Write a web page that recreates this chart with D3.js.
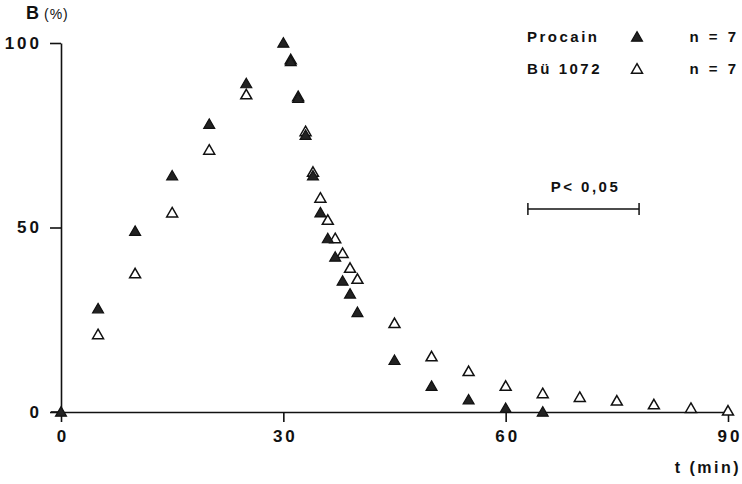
<!DOCTYPE html>
<html>
<head>
<meta charset="utf-8">
<script src="https://cdn.jsdelivr.net/npm/d3@7"></script>
<style>
  body { margin: 0; background: #fff; }
  text { font-family: "Liberation Sans", Arial, sans-serif; font-weight: bold; fill: #111; }
</style>
</head>
<body>
<div id="chart"></div>
<script>
// data: time (min) and B (%)
const procainT = [0, 5, 10, 15, 20, 25, 30, 31, 32, 33, 34, 35, 36, 37, 38, 39, 40, 45, 50, 55, 60, 65]
const procainB = [0, 28, 49, 64, 78, 89, 100, 95, 85, 75, 64, 54, 47, 42, 35.5, 32, 27, 14, 7, 3.3, 1, 0]
const bueT = [5, 10, 15, 20, 25, 31, 32, 33, 34, 35, 36, 37, 38, 39, 40, 45, 50, 55, 60, 65, 70, 75, 80, 85, 90]
const bueB = [21, 37.5, 54, 71, 86, 95.5, 85.5, 76, 65, 58, 52, 47, 43, 39, 36, 24, 15, 11, 7, 5, 4, 3, 2, 1, 0.3]
const xTicks = [0, 30, 60, 90]
const yTicks = [0, 50, 100]
const legendNames = ['Procain', 'Bü 1072']
const legendN = ['n = 7', 'n = 7']
const sigRange = [63, 78]   // P < 0,05 bracket, in minutes

const width = 742, height = 484
const margin = ({ top: 43, right: 14, bottom: 72, left: 61 })

const svg = d3.select('#chart').append('svg')
  .attr('width', width)
  .attr('height', height)

const x = d3.scaleLinear().domain([0, 90]).range([margin.left, width - margin.right])
const y = d3.scaleLinear().domain([0, 100]).range([height - margin.bottom, margin.top])

// axes
svg.append('g')
  .attr('transform', 'translate(0,' + y(0) + ')')
  .call(d3.axisBottom(x).tickValues(xTicks).tickSize(10).tickSizeOuter(0).tickPadding(8))
svg.append('g')
  .attr('transform', 'translate(' + x(0) + ',0)')
  .call(d3.axisLeft(y).tickValues(yTicks).tickSize(11).tickSizeOuter(0).tickPadding(8))

svg.selectAll('.domain, .tick line').attr('stroke', '#111').attr('stroke-width', 1.6)
svg.selectAll('.tick text')
  .style('font-size', '17px')
  .style('letter-spacing', '3px')
  .style('font-family', '"Liberation Sans", Arial, sans-serif')
  .style('font-weight', 'bold')
  .attr('fill', '#111')
// letter-spacing leaves a trailing gap; nudge x labels back to centre
svg.selectAll('.tick text').filter(function () { return d3.select(this).attr('y') > 0 })
  .attr('dx', 1.5)
// x axis line starts a bit left of the y axis
svg.append('line')
  .attr('x1', x(0) - 10).attr('x2', x(0))
  .attr('y1', y(0)).attr('y2', y(0))
  .attr('stroke', '#111').attr('stroke-width', 1.6)

// axis titles
const bt = svg.append('text').attr('x', 26).attr('y', 19)
bt.append('tspan').style('font-size', '18px').text('B')
bt.append('tspan').attr('dx', 5).style('font-size', '14px').style('font-weight', 'normal')
  .style('letter-spacing', '1px').text('(%)')

svg.append('text')
  .attr('x', 741).attr('y', 473)
  .style('text-anchor', 'end')
  .style('font-size', '16px')
  .style('letter-spacing', '2.5px')
  .text('t (min)')

// markers
const tri = d3.symbol().type(d3.symbolTriangle).size(52)

const bueData = bueT.map((t, i) => ({ t: t, b: bueB[i] }))
const procData = procainT.map((t, i) => ({ t: t, b: procainB[i] }))

svg.append('g').selectAll('path')
  .data(bueData)
  .enter().append('path')
  .attr('d', tri)
  .attr('transform', d => 'translate(' + x(d.t) + ',' + (y(d.b) + 1) + ')')
  .attr('fill', 'white')
  .attr('stroke', '#111')
  .attr('stroke-width', 1.5)

svg.append('g').selectAll('path')
  .data(procData)
  .enter().append('path')
  .attr('d', tri)
  .attr('transform', d => 'translate(' + x(d.t) + ',' + (y(d.b) + 1) + ')')
  .attr('fill', '#222')
  .attr('stroke', '#111')
  .attr('stroke-width', 1.2)

// legend
const legend = svg.selectAll('.legend')
  .data(legendNames)
  .enter().append('g')
  .attr('class', 'legend')
  .attr('transform', (d, i) => 'translate(0,' + (42 + i * 32) + ')')

legend.append('text')
  .attr('x', 527)
  .style('font-size', '15px')
  .style('letter-spacing', '2.5px')
  .text(d => d)

legend.append('path')
  .attr('d', tri)
  .attr('transform', 'translate(637,-4)')
  .attr('fill', (d, i) => i === 0 ? '#222' : 'white')
  .attr('stroke', '#111')
  .attr('stroke-width', (d, i) => i === 0 ? 1.2 : 1.5)

legend.append('text')
  .attr('x', 739)
  .style('text-anchor', 'end')
  .style('font-size', '15px')
  .style('letter-spacing', '3px')
  .text((d, i) => legendN[i])

// significance bracket
const sigY = 209
svg.append('line')
  .attr('x1', x(sigRange[0])).attr('x2', x(sigRange[1]))
  .attr('y1', sigY).attr('y2', sigY)
  .attr('stroke', '#111').attr('stroke-width', 1.5)
sigRange.forEach(t => {
  svg.append('line')
    .attr('x1', x(t)).attr('x2', x(t))
    .attr('y1', sigY - 6).attr('y2', sigY + 6)
    .attr('stroke', '#111').attr('stroke-width', 1.5)
})
svg.append('text')
  .attr('x', (x(sigRange[0]) + x(sigRange[1])) / 2 + 2)
  .attr('y', 192)
  .style('text-anchor', 'middle')
  .style('font-size', '15px')
  .style('letter-spacing', '2.5px')
  .text('P< 0,05')
</script>
</body>
</html>
